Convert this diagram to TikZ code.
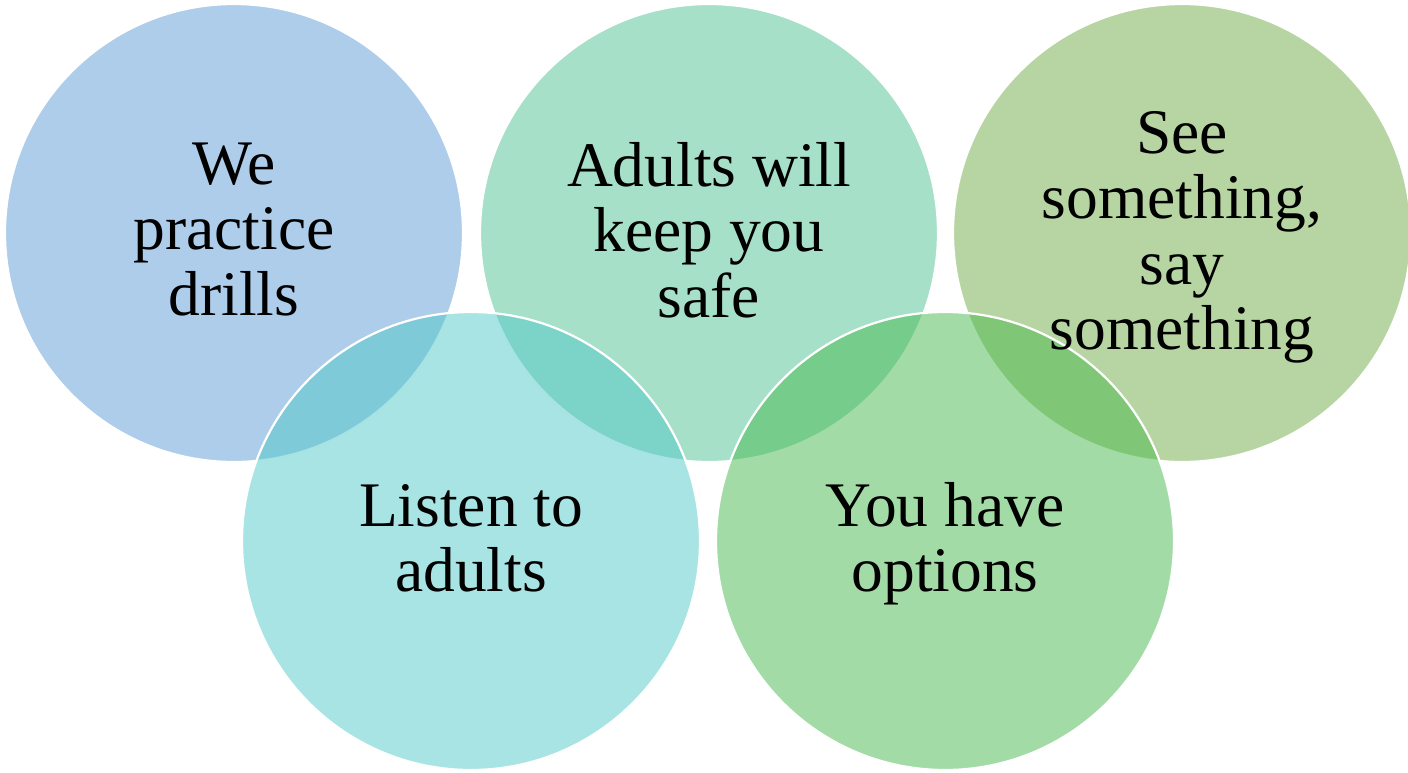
\documentclass[tikz,border=0pt]{standalone}
\usepackage{fontspec}
\setmainfont{Liberation Serif}
\definecolor{cA}{RGB}{91,155,213}
\definecolor{cB}{RGB}{77,193,146}
\definecolor{cC}{RGB}{112,172,70}
\definecolor{cD}{RGB}{83,201,201}
\definecolor{cE}{RGB}{72,184,78}
\tikzset{
  bubble/.style={circle, minimum size=458pt, inner sep=0pt, draw=white, line width=2.2pt, fill opacity=0.5, draw opacity=1},
  label/.style={anchor=base, inner sep=0pt, text=black, font=\fontsize{63.5pt}{65.5pt}\selectfont}
}
\newcommand{\lines}[1]{\setlength{\tabcolsep}{0pt}\begin{tabular}[t]{c}#1\end{tabular}}
\begin{document}
\begin{tikzpicture}[x=1pt,y=-1pt]
\useasboundingbox (0,0) rectangle (1408,772);
\node[bubble, fill=cA] (c1) at (234,233) {};
\node[bubble, fill=cB] (c2) at (709,233) {};
\node[bubble, fill=cC] (c3) at (1182,233) {};
\node[bubble, fill=cD] (c4) at (471,541) {};
\node[bubble, fill=cE] (c5) at (945,541) {};
\node[label] (t1) at (234,184) {\lines{We\\practice\\drills}};
\node[label] (t2) at (709,186) {\lines{Adults will\\keep you\\safe}};
\node[label] (t3) at (1182,153) {\lines{See\\something,\\say\\something}};
\node[label] (t4) at (471,526) {\lines{Listen to\\adults}};
\node[label] (t5) at (945,526) {\lines{You have\\options}};
\end{tikzpicture}
\end{document}
